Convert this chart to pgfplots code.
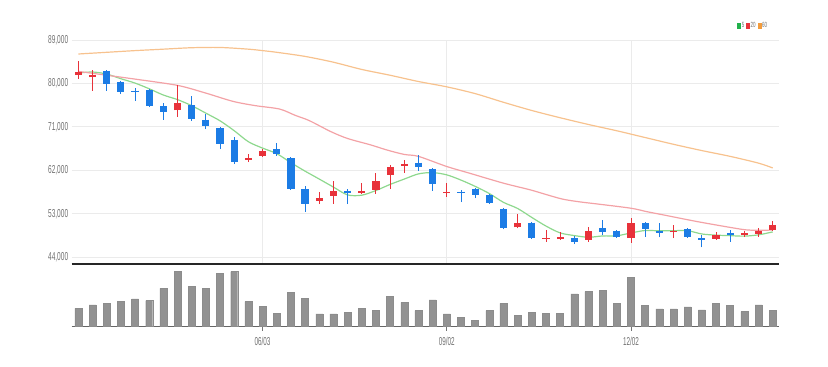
\documentclass[border=0pt]{standalone}
\usepackage{pgfplots}
\pgfplotsset{compat=1.18}
\usepackage{fontspec}
\setmainfont{Liberation Sans}
\definecolor{upcol}{HTML}{E8323A}
\definecolor{dncol}{HTML}{1C7CE5}
\definecolor{ma5}{HTML}{8ED88E}
\definecolor{ma20}{HTML}{F3A2A6}
\definecolor{ma60}{HTML}{F7C28E}
\definecolor{ma5s}{HTML}{22B14C}
\definecolor{ma20s}{HTML}{E8323A}
\definecolor{ma60s}{HTML}{F39C3C}
\definecolor{gridc}{HTML}{EBEBEB}
\definecolor{labc}{HTML}{707070}
\definecolor{volc}{HTML}{929292}
% i, open, high, low, close
\newcommand{\candleUp}[5]{%
  \addplot[upcol, line width=0.9pt, forget plot] coordinates {(#1,#4) (#1,#3)};
  \addplot[upcol, line width=7.2pt, line cap=butt, forget plot] coordinates {(#1,#2) (#1,#5)};}
\newcommand{\candleDn}[5]{%
  \addplot[dncol, line width=0.9pt, forget plot] coordinates {(#1,#4) (#1,#3)};
  \addplot[dncol, line width=7.2pt, line cap=butt, forget plot] coordinates {(#1,#2) (#1,#5)};}
\begin{document}
\begin{tikzpicture}
\path[use as bounding box] (0pt,0pt) rectangle (828pt,367pt);
\begin{axis}[at={(71.7pt,102.7pt)}, anchor=south west, scale only axis,
  width=706.8pt, height=224.3pt,
  xmin=-0.47, xmax=49.41, ymin=42550, ymax=89000,
  axis x line*=bottom, axis y line*=left,
  y axis line style={draw=none},
  x axis line style={draw=black!85, line width=1.8pt, -},
  xtick={13,26,39}, xticklabels={},
  ytick={44000,53000,62000,71000,80000,89000}, scaled y ticks=false,
  major tick length=0pt,
  xmajorgrids, ymajorgrids, grid style={gridc, line width=0.9pt},
  /pgf/number format/assume math mode=true,
  yticklabel style={font=\fontsize{11.5}{11.5}\selectfont, text=labc},
  yticklabel={\scalebox{0.57}[1]{\pgfmathprintnumber[fixed,precision=0,1000 sep={,}]{\tick}}},
  legend style={draw=none, fill=none, legend columns=-1,
    font=\fontsize{7.5}{7.5}\selectfont, text=labc,
    at={(rel axis cs:0.985,1.045)}, anchor=south east, inner sep=0pt,
    nodes={inner sep=0.6pt},
    /tikz/every even column/.append style={column sep=1.5pt}},
]
\addplot[ma5, line width=1.2pt, smooth, legend image code/.code={\fill[ma5s] (0pt,-2.4pt) rectangle (2.5pt,2.4pt);}] coordinates {
(0,82160) (1,82370) (2,81950) (3,80980) (4,80080) (5,78900) (6,77600) (7,76650) (8,75400) (9,73850)
(10,72260) (11,70210) (12,67930) (13,66610) (14,65470) (15,63590) (16,61840) (17,60200) (18,58540) (19,56920)
(20,56860) (21,57830) (22,59090) (23,60200) (24,61270) (25,61540) (26,61070) (27,59990) (28,58690) (29,57210)
(30,55380) (31,54110) (32,52250) (33,50470) (34,49050) (35,48500) (36,48150) (37,48420) (38,48460) (39,49040)
(40,49550) (41,49480) (42,49510) (43,49510) (44,48830) (45,48590) (46,48480) (47,48380) (48,48650) (49,49260)};
\addlegendentry{\scalebox{0.6}[1]{5}}
\addplot[ma20, line width=1.2pt, smooth, legend image code/.code={\fill[ma20s] (0pt,-2.4pt) rectangle (2.5pt,2.4pt);}] coordinates {
(0,82500) (2,81700) (4,80900) (7,79600) (9,78000) (10.9,76300) (12.5,75400) (14.2,74700) (15.3,73400) (16.3,72300)
(17.8,70050) (19,68600) (20.6,67300) (21.8,66200) (23,65300) (24,64900) (26,62800) (27.6,61420) (30,59350) (31.9,57960)
(33.1,56920) (34.2,56030) (35.4,55470) (36.6,55050) (39,54160) (40.1,53460) (41.3,52770) (43.7,51380) (46.1,50140) (47.2,49660)
(48.3,49600) (49,49650)};
\addlegendentry{\scalebox{0.6}[1]{20}}
\addplot[ma60, line width=1.2pt, smooth, legend image code/.code={\fill[ma60s] (0pt,-2.4pt) rectangle (2.5pt,2.4pt);}] coordinates {
(0,86100) (2,86450) (4,86800) (6,87100) (8,87400) (10,87450) (12,87100) (13,86800) (14,86450) (16,85600)
(18,84400) (20,82900) (22,81700) (24,80400) (26,79300) (28,77900) (30,76100) (32,74400) (34,72900) (36,71500)
(38,70200) (40,68800) (42,67400) (44,66100) (46,64900) (48,63500) (49,62500)};
\addlegendentry{\scalebox{0.6}[1]{60}}
\candleUp{0}{81700}{84600}{81000}{82400}
\candleUp{1}{81250}{82850}{78500}{81800}
\candleDn{2}{82600}{82700}{78500}{79900}
\candleDn{3}{80300}{80600}{77900}{78150}
\candleDn{4}{78500}{79050}{76400}{78150}
\candleDn{5}{78700}{78800}{75100}{75250}
\candleDn{6}{75250}{76050}{72500}{74050}
\candleUp{7}{74400}{79600}{73150}{75950}
\candleDn{8}{75450}{77300}{72250}{72700}
\candleDn{9}{72500}{73650}{70550}{71100}
\candleDn{10}{70750}{70900}{66400}{67500}
\candleDn{11}{68300}{69000}{63300}{63800}
\candleUp{12}{64250}{65350}{63700}{64550}
\candleUp{13}{65050}{66400}{64800}{66100}
\candleDn{14}{66400}{67750}{65000}{65400}
\candleDn{15}{64550}{64700}{58000}{58100}
\candleDn{16}{58100}{58800}{53450}{55050}
\candleUp{17}{55700}{57600}{55050}{56350}
\candleUp{18}{56700}{59700}{55050}{57800}
\candleDn{19}{57800}{58100}{55000}{57300}
\candleUp{20}{57350}{59350}{57150}{57800}
\candleUp{21}{57950}{61400}{57150}{59900}
\candleUp{22}{61050}{63150}{58100}{62650}
\candleUp{23}{62950}{64200}{61550}{63350}
\candleDn{24}{63600}{65200}{61950}{62650}
\candleDn{25}{62250}{62450}{57800}{59150}
\candleUp{26}{57300}{59350}{56550}{57550}
\candleDn{27}{57600}{57950}{55400}{57250}
\candleDn{28}{58100}{58300}{56250}{56850}
\candleDn{29}{56900}{57200}{55100}{55250}
\candleDn{30}{53950}{54150}{49800}{50000}
\candleUp{31}{50200}{52900}{50000}{51200}
\candleDn{32}{51200}{51400}{47800}{47950}
\candleUp{33}{47750}{49650}{47250}{47950}
\candleUp{34}{47750}{49300}{47600}{48150}
\candleDn{35}{47950}{48400}{46750}{47250}
\candleUp{36}{47600}{50350}{47250}{49450}
\candleDn{37}{50000}{51750}{48600}{49300}
\candleDn{38}{49500}{49650}{48000}{48150}
\candleUp{39}{47950}{52100}{47050}{51050}
\candleDn{40}{51050}{51400}{48250}{49800}
\candleDn{41}{49500}{51150}{48150}{49100}
\candleUp{42}{49200}{50700}{47950}{49450}
\candleDn{43}{49800}{50000}{48000}{48150}
\candleDn{44}{47950}{48600}{46050}{47650}
\candleUp{45}{47800}{49300}{47600}{48600}
\candleDn{46}{49000}{49650}{47250}{48550}
\candleUp{47}{48550}{49450}{48250}{48950}
\candleUp{48}{48900}{50000}{48250}{49500}
\candleUp{49}{49650}{51600}{49450}{50700}
\end{axis}
\begin{axis}[at={(71.7pt,40.3pt)}, anchor=south west, scale only axis,
  width=706.8pt, height=62.4pt,
  xmin=-0.47, xmax=49.41, ymin=0, ymax=624,
  axis x line*=bottom, axis y line=none,
  x axis line style={draw=black!60, line width=1.5pt, -},
  xtick={13,26,39},
  xticklabels={\scalebox{0.55}[1]{06/03},\scalebox{0.55}[1]{09/02},\scalebox{0.55}[1]{12/02}},
  xticklabel style={font=\fontsize{11.5}{11.5}\selectfont, text=labc, yshift=-3pt},
  tick align=outside, major tick length=4pt,
  x tick style={draw=black!55, line width=0.8pt},
  ytick=\empty,
  ybar, bar width=7pt,
]
\addplot[fill=volc, draw=black!45, line width=0.4pt] coordinates {
(0,184) (1,217) (2,230) (3,250) (4,277) (5,260) (6,384) (7,550) (8,400) (9,384)
(10,534) (11,550) (12,250) (13,200) (14,134) (15,344) (16,284) (17,127) (18,127) (19,144)
(20,184) (21,160) (22,300) (23,244) (24,160) (25,267) (26,127) (27,90) (28,64) (29,160)
(30,234) (31,114) (32,144) (33,134) (34,134) (35,327) (36,350) (37,360) (38,234) (39,494)
(40,210) (41,177) (42,177) (43,197) (44,167) (45,234) (46,210) (47,150) (48,217) (49,160)};
\end{axis}
\end{tikzpicture}
\end{document}
